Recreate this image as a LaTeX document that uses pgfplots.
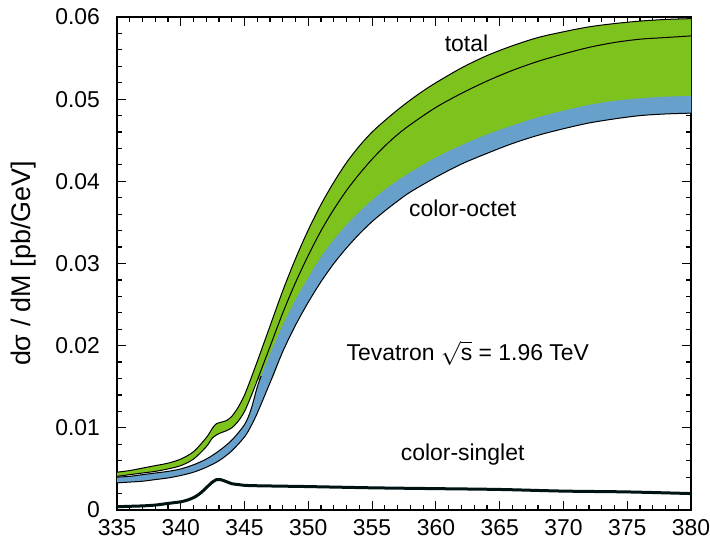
\documentclass[border=0pt]{standalone}
\usepackage{fontspec}
\setmainfont{Liberation Sans}
\usepackage{pgfplots}
\pgfplotsset{compat=1.18}
\usepgfplotslibrary{fillbetween}
\definecolor{cgreen}{RGB}{126,194,30}
\definecolor{cblue}{RGB}{104,160,204}

\pgfplotstableread[row sep=\\]{
x y\\
335 0.0046\\ 336 0.0048\\ 337 0.0051\\ 338 0.0054\\ 339 0.0057\\ 340 0.0062\\ 341 0.0071\\ 342 0.0088\\ 342.5 0.0100\\ 342.8 0.0105\\ 343.2 0.0107\\ 343.6 0.0109\\ 344 0.0114\\ 344.5 0.0125\\ 345 0.0140\\ 345.5 0.0160\\ 346 0.0181\\ 347 0.0224\\ 348 0.0267\\ 349 0.0306\\ 350 0.0341\\ 351 0.0372\\ 352 0.0399\\ 353 0.0423\\ 354 0.0443\\ 355 0.0460\\ 356 0.0474\\ 357 0.0487\\ 358 0.0499\\ 359 0.0510\\ 360 0.0520\\ 362 0.0538\\ 364 0.0553\\ 366 0.0565\\ 368 0.0575\\ 370 0.0582\\ 372 0.0588\\ 374 0.0592\\ 376 0.0595\\ 378 0.0597\\ 380 0.0598\\
}\totalhi

\pgfplotstableread[row sep=\\]{
x y\\
335 0.0041\\ 336 0.0043\\ 337 0.0045\\ 338 0.0047\\ 339 0.0050\\ 340 0.0054\\ 341 0.0062\\ 342 0.0077\\ 342.5 0.0088\\ 343 0.0093\\ 343.5 0.0096\\ 344 0.0100\\ 344.5 0.0108\\ 345 0.0120\\ 345.5 0.0138\\ 346 0.0158\\ 347 0.0199\\ 348 0.0240\\ 349 0.0277\\ 350 0.0310\\ 351 0.0340\\ 352 0.0366\\ 353 0.0389\\ 354 0.0409\\ 355 0.0427\\ 356 0.0443\\ 357 0.0457\\ 358 0.0469\\ 360 0.0490\\ 362 0.0507\\ 364 0.0522\\ 366 0.0535\\ 368 0.0546\\ 370 0.0555\\ 372 0.0563\\ 374 0.0569\\ 376 0.0573\\ 378 0.0575\\ 380 0.0577\\
}\totalmid

\pgfplotstableread[row sep=\\]{
x y\\
335 0.0041\\ 336 0.0043\\ 337 0.0045\\ 338 0.0047\\ 339 0.0050\\ 340 0.0054\\ 341 0.0062\\ 342 0.0077\\ 342.5 0.0088\\ 343 0.0093\\ 343.5 0.0096\\ 344 0.0100\\ 344.5 0.0108\\ 345 0.0120\\ 345.5 0.0138\\ 346 0.0158\\ 347 0.0155\\ 348 0.0193\\ 349 0.0225\\ 350 0.0253\\ 351 0.0278\\ 352 0.0300\\ 353 0.0319\\ 354 0.0336\\ 355 0.0351\\ 356 0.0364\\ 357 0.0376\\ 358 0.0387\\ 360 0.0405\\ 362 0.0421\\ 364 0.0434\\ 366 0.0446\\ 368 0.0456\\ 370 0.0464\\ 372 0.0471\\ 374 0.0476\\ 376 0.0480\\ 378 0.0482\\ 380 0.0483\\
}\greenlow

\pgfplotstableread[row sep=\\]{
x y\\
335 0.0040\\ 336 0.0041\\ 337 0.0043\\ 338 0.0045\\ 339 0.0047\\ 340 0.0050\\ 341 0.0055\\ 342 0.0062\\ 343 0.0072\\ 344 0.0085\\ 345 0.0104\\ 345.5 0.0122\\ 346 0.0150\\ 347 0.0190\\ 348 0.0225\\ 349 0.0256\\ 350 0.0283\\ 351 0.0308\\ 352 0.0329\\ 353 0.0347\\ 354 0.0363\\ 355 0.0377\\ 356 0.0390\\ 357 0.0401\\ 358 0.0411\\ 360 0.0429\\ 362 0.0444\\ 364 0.0457\\ 366 0.0468\\ 368 0.0478\\ 370 0.0486\\ 372 0.0493\\ 374 0.0498\\ 376 0.0501\\ 378 0.0503\\ 380 0.0504\\
}\octethi

\pgfplotstableread[row sep=\\]{
x y\\
335 0.0040\\ 336 0.0041\\ 337 0.0043\\ 338 0.0045\\ 339 0.0047\\ 340 0.0050\\ 341 0.0055\\ 342 0.0062\\ 343 0.0072\\ 344 0.0085\\ 345 0.0104\\ 345.5 0.0122\\ 346 0.0150\\ 346.3 0.0163\\
}\octethiedge

\pgfplotstableread[row sep=\\]{
x y\\
335 0.0033\\ 336 0.0034\\ 337 0.0035\\ 338 0.0037\\ 339 0.0039\\ 340 0.0042\\ 341 0.0046\\ 342 0.0052\\ 343 0.0060\\ 344 0.0072\\ 345 0.0089\\ 345.5 0.0102\\ 346 0.0118\\ 347 0.0155\\ 348 0.0193\\ 349 0.0225\\ 350 0.0253\\ 351 0.0278\\ 352 0.0300\\ 353 0.0319\\ 354 0.0336\\ 355 0.0351\\ 356 0.0364\\ 357 0.0376\\ 358 0.0387\\ 360 0.0405\\ 362 0.0421\\ 364 0.0434\\ 366 0.0446\\ 368 0.0456\\ 370 0.0464\\ 372 0.0471\\ 374 0.0476\\ 376 0.0480\\ 378 0.0482\\ 380 0.0483\\
}\octetlo

\pgfplotstableread[row sep=\\]{
x y\\
335 0.0004\\ 336 0.00045\\ 337 0.0005\\ 338 0.0006\\ 339 0.0008\\ 340 0.0010\\ 340.5 0.0012\\ 341 0.0015\\ 341.5 0.0020\\ 342 0.0027\\ 342.4 0.0033\\ 342.8 0.0037\\ 343.1 0.0037\\ 343.5 0.0035\\ 344 0.0032\\ 344.5 0.0031\\ 345 0.0030\\ 346 0.00295\\ 348 0.0029\\ 350 0.00285\\ 355 0.0027\\ 360 0.0026\\ 365 0.0025\\ 370 0.0023\\ 375 0.0022\\ 380 0.0020\\
}\singlet

\begin{document}
\begin{tikzpicture}
\begin{axis}[
  name=ax,
  scale only axis, width=287bp, height=246.5bp,
  xmin=335, xmax=380, ymin=0, ymax=0.06,
  xtick={335,340,345,350,355,360,365,370,375,380},
  minor x tick num=4,
  ytick={0,0.01,0.02,0.03,0.04,0.05,0.06},
  yticklabels={0,0.01,0.02,0.03,0.04,0.05,0.06},
  minor y tick num=4,
  scaled y ticks=false,
  tick align=inside, tick pos=both,
  major tick length=4.5bp, minor tick length=2.5bp,
  every tick/.style={black, line width=0.6bp},
  axis line style={line width=1bp},
  tick label style={font=\fontsize{11.5}{14}\selectfont},
  yticklabel style={xshift=-5bp},
  xticklabel style={yshift=-1.2bp},
  /pgf/number format/assume math mode=true,
  ylabel={dσ / dM [pb/GeV]},
  ylabel style={font=\fontsize{13.5}{15}\selectfont, at={(axis description cs:-0.162,0.5)}, anchor=center},
]
\addplot[name path=A, draw=none, smooth] table {\totalhi};
\addplot[name path=E, draw=none, smooth] table {\greenlow};
\addplot[cgreen] fill between[of=A and E];
\addplot[name path=C, draw=none, smooth] table {\octethi};
\addplot[name path=D, draw=none, smooth] table {\octetlo};
\addplot[cblue] fill between[of=C and D];
\addplot[black, line width=0.5bp, smooth] table {\totalhi};
\addplot[black, line width=0.5bp, smooth] table {\totalmid};
\addplot[black, line width=0.5bp, smooth] table {\octethiedge};
\addplot[black, line width=0.5bp, smooth] table {\octetlo};
\addplot[black!85!teal, line width=1.5bp, smooth] table {\singlet};
\node[font=\fontsize{11.5}{13}\selectfont] at (axis cs:362.4,0.0568) {total};
\node[font=\fontsize{11.5}{13}\selectfont] at (axis cs:362.1,0.0367) {color-octet};
\node[font=\fontsize{11.5}{13}\selectfont] at (axis cs:362.5,0.0191) {Tevatron $\sqrt{\mbox{s}}$ = 1.96 TeV};
\node[font=\fontsize{11.5}{13}\selectfont] at (axis cs:362.1,0.0067) {color-singlet};
\end{axis}
\pgfresetboundingbox
\path[use as bounding box] ([xshift=-58.5bp,yshift=-16bp]ax.south west) rectangle ([xshift=9.5bp,yshift=8.5bp]ax.north east);
\end{tikzpicture}
\end{document}
